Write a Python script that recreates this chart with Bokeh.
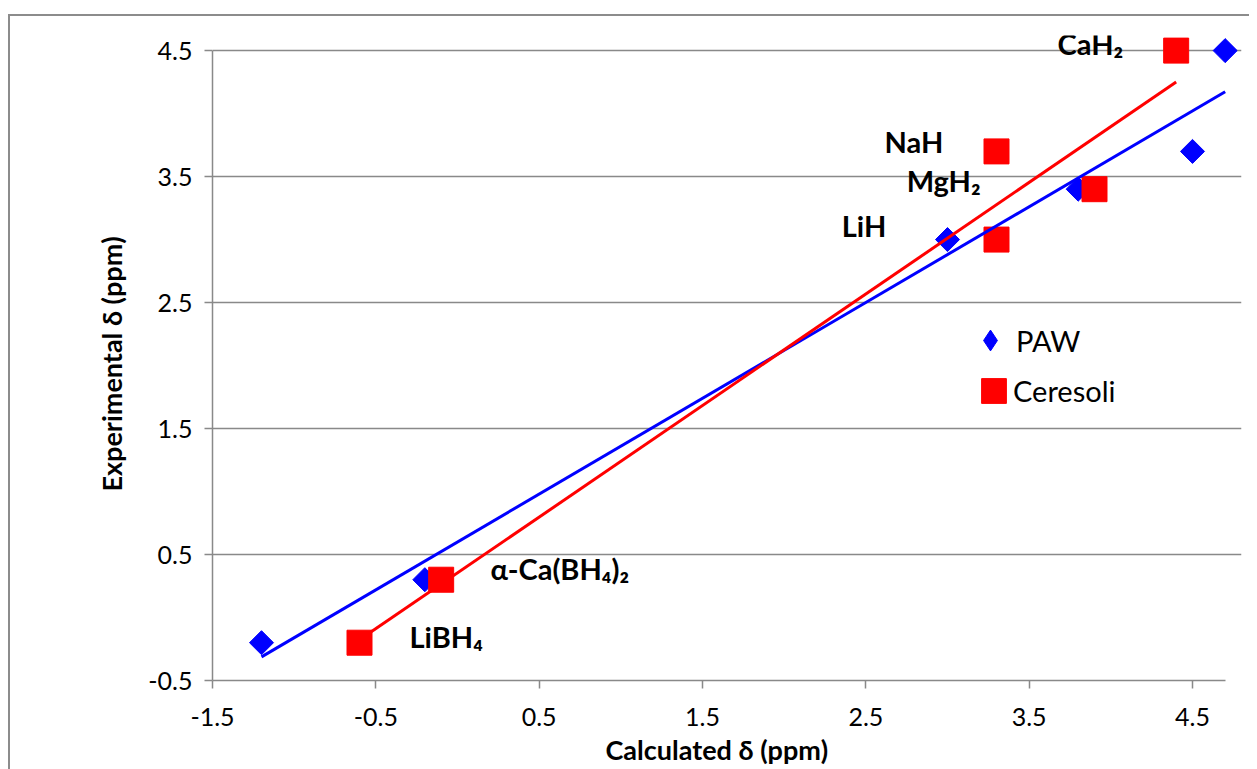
import numpy as np
from bokeh.plotting import figure
from bokeh.models import (Range1d, FixedTicker, Legend, LegendItem, ColumnDataSource, LabelSet, Title)
from bokeh.core.properties import value
from bokeh.embed import file_html
from bokeh.resources import INLINE

# ---- data ----
paw_x = [-1.2, -0.2, 3.0, 3.8, 4.5, 4.7]
paw_y = [-0.2, 0.3, 3.0, 3.4, 3.7, 4.5]
cer_x = [-0.6, -0.1, 3.3, 3.3, 3.9, 4.4]
cer_y = [-0.2, 0.3, 3.0, 3.7, 3.4, 4.5]

x_ticks = [-1.5, -0.5, 0.5, 1.5, 2.5, 3.5, 4.5]
x_tick_labels = ["-1.5", "-0.5", "0.5", "1.5", "2.5", "3.5", "4.5"]
y_ticks = [-0.5, 0.5, 1.5, 2.5, 3.5, 4.5]
y_tick_labels = ["-0.5", "0.5", "1.5", "2.5", "3.5", "4.5"]

compound_names = ["CaH₂", "NaH", "MgH₂", "LiH", "α-Ca(BH₄)₂", "LiBH₄"]
name_x = [3.674, 2.615, 2.75, 2.352, 0.202, -0.294]
name_y = [4.56, 3.78, 3.468, 3.11, 0.389, -0.151]

FONT = "Lato"
GRAY = "#898989"

p = figure(
    x_range=Range1d(-1.5, 4.8), y_range=Range1d(-0.5, 4.62),
    frame_width=1029, frame_height=645,
    min_border_left=202, min_border_top=19, min_border_right=8, min_border_bottom=78,
    output_backend="svg", toolbar_location=None,
)
# outer chart-area border (Excel style)
p.styles = {"margin-left": "8px", "margin-top": "14px",
            "border-left": "2px solid #8c8c8c", "border-top": "2px solid #8c8c8c"}
p.outline_line_color = None
p.background_fill_color = "white"
p.border_fill_color = "white"

# grids
p.xgrid.visible = False
p.ygrid.grid_line_color = GRAY
p.ygrid.grid_line_width = 1.5
p.ygrid.ticker = FixedTicker(ticks=y_ticks)
p.ygrid.bounds = (-1.5, 4.7)

for ax, ticks, labels in ((p.xaxis[0], x_ticks, x_tick_labels), (p.yaxis[0], y_ticks, y_tick_labels)):
    ax.ticker = FixedTicker(ticks=ticks)
    ax.major_label_overrides = dict(zip(ticks, labels))
    ax.axis_line_color = GRAY
    ax.axis_line_width = 1.5
    ax.major_tick_line_color = GRAY
    ax.major_tick_line_width = 1.5
    ax.major_tick_out = 8
    ax.major_tick_in = 0
    ax.minor_tick_line_color = None
    ax.major_label_text_font = FONT
    ax.major_label_text_font_size = "25px"
    ax.major_label_text_color = "black"

p.xaxis.bounds = (-1.5, 4.7)
p.yaxis.bounds = (-0.5, 4.5)
p.xaxis.major_label_standoff = 19
p.yaxis.major_label_standoff = 12

# axis titles, centred on the Excel plot area (x: -1.5 .. 4.7, y: -0.5 .. 4.5)
p.add_layout(Title(text="Calculated δ (ppm)", align="left", offset=393,
                   vertical_align="top", standoff=8,
                   text_font=FONT, text_font_size="27px", text_font_style="bold",
                   text_color="black"), "below")
p.add_layout(Title(text="Experimental δ (ppm)", align="left", offset=189,
                   vertical_align="bottom", standoff=36,
                   text_font=FONT, text_font_size="27px", text_font_style="bold",
                   text_color="black"), "left")

# markers
r_paw = p.scatter(paw_x, paw_y, marker="square", size=17, angle=np.pi / 4,
                  fill_color="#0000FF", line_color="#0000FF")
r_cer = p.scatter(cer_x, cer_y, marker="square", size=25,
                  fill_color="#FF0000", line_color="#FF0000")

# legend key glyphs (not drawn in the plot area)
r_paw_key = p.scatter([np.nan], [np.nan], marker="diamond", fill_color="#0000FF", line_color="#0000FF")
r_cer_key = p.quad(left=[np.nan], right=[np.nan], top=[np.nan], bottom=[np.nan],
                   fill_color="#FF0000", line_color="#FF0000")

# linear trend lines over each series' range
bp = np.polyfit(paw_x, paw_y, 1)
rp = np.polyfit(cer_x, cer_y, 1)
bx = [min(paw_x), max(paw_x)]
rx = [min(cer_x), max(cer_x)]
p.line(bx, list(np.polyval(bp, bx)), line_color="#0000FF", line_width=3)
p.line(rx, list(np.polyval(rp, rx)), line_color="#FF0000", line_width=3)

# compound labels
src = ColumnDataSource(dict(x=name_x, y=name_y, t=compound_names))
p.add_layout(LabelSet(x="x", y="y", text="t", source=src, text_font=value(FONT),
                      text_font_style="bold", text_font_size="29px", text_color="black",
                      text_align="left", text_baseline="middle"))


def make_legend(label, renderer, glyph, standoff, loc):
    lg = Legend(items=[LegendItem(label=label, renderers=[renderer])], location=loc)
    lg.border_line_color = None
    lg.background_fill_alpha = 0
    lg.padding = 0
    lg.margin = 0
    lg.spacing = 0
    lg.glyph_width = glyph
    lg.glyph_height = glyph
    lg.label_standoff = standoff
    lg.label_text_font = FONT
    lg.label_text_font_size = "29px"
    lg.label_text_color = "black"
    return lg


p.add_layout(make_legend("PAW", r_paw_key, 52, 0, (752, 314)))
p.add_layout(make_legend("Ceresoli", r_cer_key, 31, 4, (766, 272)))

open("out.html", "w").write(file_html(p, INLINE))
